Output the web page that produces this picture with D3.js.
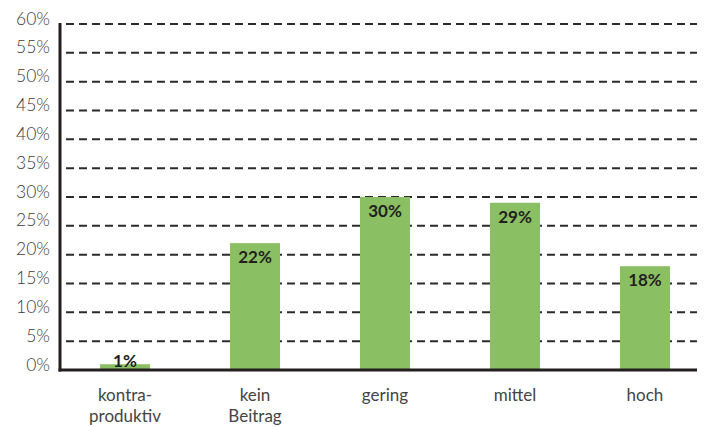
<!DOCTYPE html>
<html>
<head>
<meta charset="utf-8">
<script src="https://cdn.jsdelivr.net/npm/d3@7"></script>
<style>
  html, body { margin: 0; padding: 0; background: #fff; }
  svg { display: block; }
  text { font-family: "Lato", "Open Sans", sans-serif; }
</style>
</head>
<body>
<svg id="chart" width="708" height="427"></svg>
<script>
// Categories (multi-line labels) and shares in percent
const categories = ["kontra-\nproduktiv", "kein\nBeitrag", "gering", "mittel", "hoch"];
const values = [1, 22, 30, 29, 18];
const yTicks = [0, 5, 10, 15, 20, 25, 30, 35, 40, 45, 50, 55, 60];

const plot = { left: 60, right: 710, top: 24, bottom: 370, gridEnd: 697 };

const svg = d3.select("#chart");

const x = d3.scaleBand()
  .domain(categories)
  .range([plot.left, plot.right])
  .paddingInner(0.615)
  .paddingOuter(0.3077);

const y = d3.scaleLinear().domain([0, 60]).range([plot.bottom, plot.top]);

// Dashed horizontal gridlines
svg.append("g")
  .selectAll("line")
  .data(yTicks.filter(d => d > 0))
  .join("line")
  .attr("x1", plot.left + 6)
  .attr("x2", plot.gridEnd)
  .attr("y1", d => y(d))
  .attr("y2", d => y(d))
  .attr("stroke", "#2b2b2b")
  .attr("stroke-width", 2)
  .attr("stroke-dasharray", "8,5");

// Y axis tick labels
const yAxis = d3.axisLeft(y)
  .tickValues(yTicks)
  .tickFormat(d => d + "%")
  .tickSize(0)
  .tickPadding(10);

const yg = svg.append("g")
  .attr("transform", `translate(${plot.left},0)`)
  .call(yAxis);
yg.select(".domain").remove();
yg.selectAll("text")
  .attr("font-family", "Lato, sans-serif")
  .attr("font-size", 17.5)
  .attr("font-weight", 300)
  .attr("fill", "#3a3a3a")
  .attr("dy", "0.0em");

// Bars
svg.append("g")
  .selectAll("rect")
  .data(values)
  .join("rect")
  .attr("x", (d, i) => x(categories[i]))
  .attr("width", x.bandwidth())
  .attr("y", d => y(d))
  .attr("height", d => y(0) - y(d))
  .attr("fill", "#8bbf63");

// Value labels at the top of each bar
svg.append("g")
  .selectAll("text")
  .data(values)
  .join("text")
  .attr("x", (d, i) => x(categories[i]) + x.bandwidth() / 2)
  .attr("y", d => Math.min(y(d) + 20, y(0) - 3))
  .attr("text-anchor", "middle")
  .attr("font-size", 17)
  .attr("font-weight", "bold")
  .attr("fill", "#231f20")
  .text(d => d + "%");

// Axis lines
svg.append("line")
  .attr("x1", plot.left).attr("x2", plot.left)
  .attr("y1", plot.top - 1).attr("y2", plot.bottom + 1.5)
  .attr("stroke", "#231f20").attr("stroke-width", 3);
svg.append("line")
  .attr("x1", plot.left - 1.5).attr("x2", plot.gridEnd)
  .attr("y1", plot.bottom).attr("y2", plot.bottom)
  .attr("stroke", "#231f20").attr("stroke-width", 3);

// Category labels
const xg = svg.append("g");
categories.forEach(c => {
  const t = xg.append("text")
    .attr("x", x(c) + x.bandwidth() / 2)
    .attr("y", 401)
    .attr("text-anchor", "middle")
    .attr("font-size", 17)
    .attr("font-weight", 400)
    .attr("fill", "#444444");
  c.split("\n").forEach((line, i) => {
    t.append("tspan")
      .attr("x", x(c) + x.bandwidth() / 2)
      .attr("dy", i === 0 ? 0 : 21)
      .text(line);
  });
});
</script>
</body>
</html>
